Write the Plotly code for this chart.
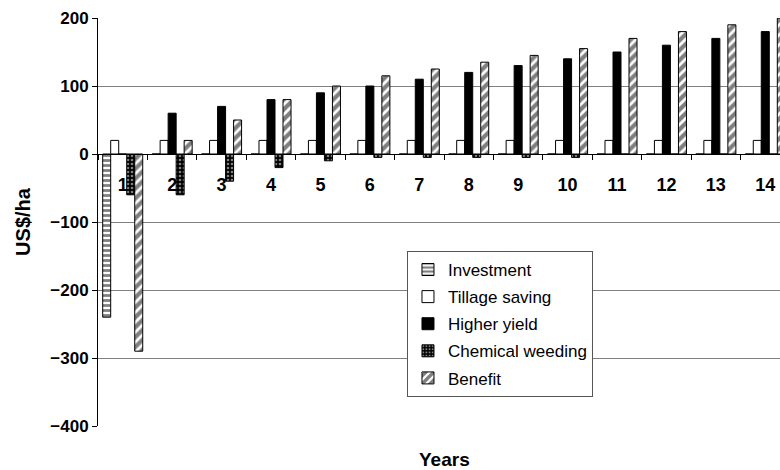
import plotly.graph_objects as go

years = [str(i) for i in range(1, 15)]
investment = [-240, 0, 0, 0, 0, 0, 0, 0, 0, 0, 0, 0, 0, 0]
tillage = [20] * 14
higher_yield = [0, 60, 70, 80, 90, 100, 110, 120, 130, 140, 150, 160, 170, 180]
chemical = [-60, -60, -40, -20, -10, -5, -5, -5, -5, -5, 0, 0, 0, 0]
benefit = [-290, 20, 50, 80, 100, 115, 125, 135, 145, 155, 170, 180, 190, 200]
y_ticks = [-400, -300, -200, -100, 0, 100, 200]
y_ticktext = ["\u2212400", "\u2212300", "\u2212200", "\u2212100", "0", "100", "200"]

series = [
    ("Investment", investment, dict(color="white", pattern=dict(shape="-", fgcolor="black", bgcolor="white", size=5, solidity=0.55, fillmode="overlay"))),
    ("Tillage saving", tillage, dict(color="white")),
    ("Higher yield", higher_yield, dict(color="black")),
    ("Chemical weeding", chemical, dict(color="black", pattern=dict(shape=".", fgcolor="white", bgcolor="black", size=4, solidity=0.35, fillmode="overlay"))),
    ("Benefit", benefit, dict(color="white", pattern=dict(shape="/", fgcolor="black", bgcolor="white", size=7, solidity=0.6, fillmode="overlay"))),
]

fig = go.Figure()
for i, (name, vals, marker) in enumerate(series):
    marker = dict(marker)
    marker["line"] = dict(color="black", width=1)
    fig.add_trace(go.Bar(x=years, y=vals, name=name, marker=marker,
                         legendgroup=f"g{i}"))

fig.update_layout(
    width=790, height=470,
    margin=dict(l=98, r=0, t=18, b=44),
    paper_bgcolor="white", plot_bgcolor="white",
    barmode="group", bargap=0.19, bargroupgap=0,
    font=dict(family="Liberation Sans, Arial, sans-serif", color="black"),
    showlegend=True,
    legend=dict(x=0.4465, y=0.429, xanchor="left", yanchor="top",
                bgcolor="white", bordercolor="#555555", borderwidth=1,
                font=dict(size=17), traceorder="grouped", tracegroupgap=2,
                itemwidth=30),
    xaxis=dict(type="category", range=[-0.5, 13.5], anchor="free", position=400/600,
               showline=True, linecolor="black", linewidth=1,
               ticks="outside", tickson="boundaries", ticklen=5, tickcolor="black",
               tickfont=dict(size=18, weight="bold"),
               ticklabelstandoff=14, showgrid=False, zeroline=False),
    yaxis=dict(range=[-400, 200], tickvals=y_ticks, ticktext=y_ticktext,
               showline=True, linecolor="black", linewidth=1,
               ticks="outside", ticklen=5, tickcolor="black",
               tickfont=dict(size=17, weight="bold"),
               showgrid=True, gridcolor="#808080", gridwidth=1,
               zeroline=True, zerolinecolor="black", zerolinewidth=1,
               title=dict(text="US$/ha", font=dict(size=20, weight="bold"), standoff=14)),
    annotations=[dict(text="Years", x=0.501, y=-0.082, xref="paper", yref="paper",
                      yanchor="middle", showarrow=False,
                      font=dict(size=19, weight="bold"))],
)

fig.write_html(
    "out.html",
    config={"displayModeBar": False},
    post_script="document.body.style.margin='0';document.body.style.overflow='hidden';",
)
